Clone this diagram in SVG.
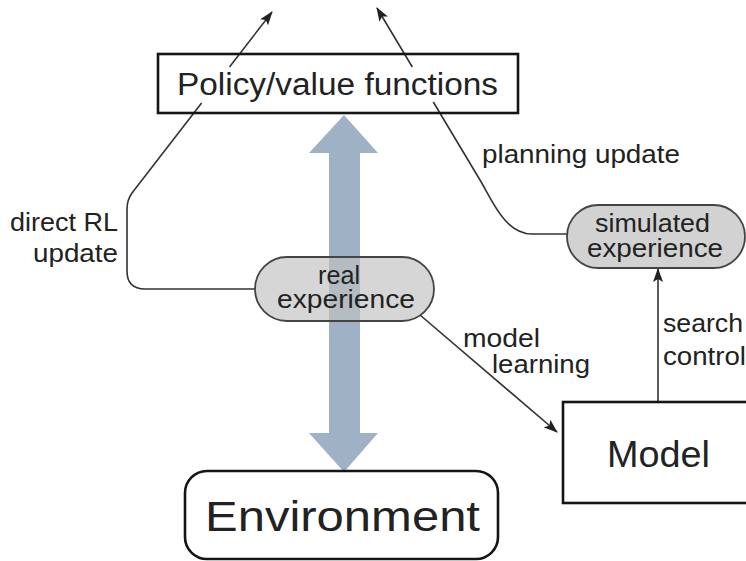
<svg xmlns="http://www.w3.org/2000/svg" width="746" height="561" viewBox="0 0 746 561">
<style>
  text { font-family: "Liberation Sans", Arial, sans-serif; fill: #222; }
  .lbl { font-size: 25px; }
  .conn { fill: none; stroke: #333; stroke-width: 1.6; }
  .box { fill: none; stroke: #151515; stroke-width: 2.6; }
  .pill { stroke: #444; stroke-width: 1.8; }
</style>
<defs>
  <marker id="ah" markerUnits="userSpaceOnUse" markerWidth="14" markerHeight="10" refX="13" refY="5" orient="auto">
    <path d="M0 0 L14 5 L0 10 L3 5 Z" fill="#222"/>
  </marker>
</defs>
<rect width="746" height="561" fill="#fff"/>

<g id="connectors">
  <path id="bigArrow" d="M344 115 L378 153 L360 153 L360 433 L378 433 L344 472 L309 433 L329 433 L329 153 L309 153 Z" fill="#9fb1c4"/>
  <path id="directRL" class="conn" d="M255 289 L145 289 Q127 289 127 271 L127 209 Q127 200 132 193 L201.6 103 M229.5 67 L272 12" marker-end="url(#ah)"/>
  <path id="planning" class="conn" d="M567 234 L532 234 C505 234 492 200 480 180 L433.3 102 M412.3 67 L377 8" marker-end="url(#ah)"/>
  <path id="modelLearning" class="conn" d="M420 315 L557 432" marker-end="url(#ah)"/>
  <path id="searchControl" class="conn" d="M658 402 L658 269" marker-end="url(#ah)"/>
  <text class="lbl" x="482" y="163" textLength="198" lengthAdjust="spacingAndGlyphs">planning update</text>
  <text class="lbl" x="10" y="231" textLength="108" lengthAdjust="spacingAndGlyphs">direct RL</text>
  <text class="lbl" x="33" y="262" textLength="85" lengthAdjust="spacingAndGlyphs">update</text>
  <text class="lbl" x="463" y="347" textLength="77" lengthAdjust="spacingAndGlyphs">model</text>
  <text class="lbl" x="492" y="373" textLength="98" lengthAdjust="spacingAndGlyphs">learning</text>
  <text class="lbl" x="663" y="332" textLength="80" lengthAdjust="spacingAndGlyphs">search</text>
  <text class="lbl" x="663" y="365" textLength="83" lengthAdjust="spacingAndGlyphs">control</text>
</g>

<g id="policy">
  <rect class="box" x="158" y="54" width="360" height="59"/>
  <text x="177" y="95" font-size="31" textLength="321" lengthAdjust="spacingAndGlyphs">Policy/value functions</text>
</g>

<g id="realExperience">
  <rect class="pill" x="255" y="257" width="179" height="64" rx="32" fill="#c0c0c0" fill-opacity="0.65"/>
  <text class="lbl" x="318" y="284" textLength="42" lengthAdjust="spacingAndGlyphs">real</text>
  <text class="lbl" x="277" y="308" textLength="138" lengthAdjust="spacingAndGlyphs">experience</text>
</g>

<g id="simulatedExperience">
  <rect class="pill" x="567" y="205" width="178" height="63" rx="31.5" fill="#d2d2d2"/>
  <text class="lbl" x="595" y="232" textLength="115" lengthAdjust="spacingAndGlyphs">simulated</text>
  <text class="lbl" x="587" y="257" textLength="136" lengthAdjust="spacingAndGlyphs">experience</text>
</g>

<g id="model">
  <rect class="box" x="563" y="402" width="200" height="101"/>
  <text x="607" y="467" font-size="37" textLength="103" lengthAdjust="spacingAndGlyphs">Model</text>
</g>

<g id="environment">
  <rect class="box" x="185" y="471" width="313" height="88" rx="22" fill="#fff"/>
  <text x="205" y="531" font-size="43" textLength="275" lengthAdjust="spacingAndGlyphs">Environment</text>
</g>
</svg>
